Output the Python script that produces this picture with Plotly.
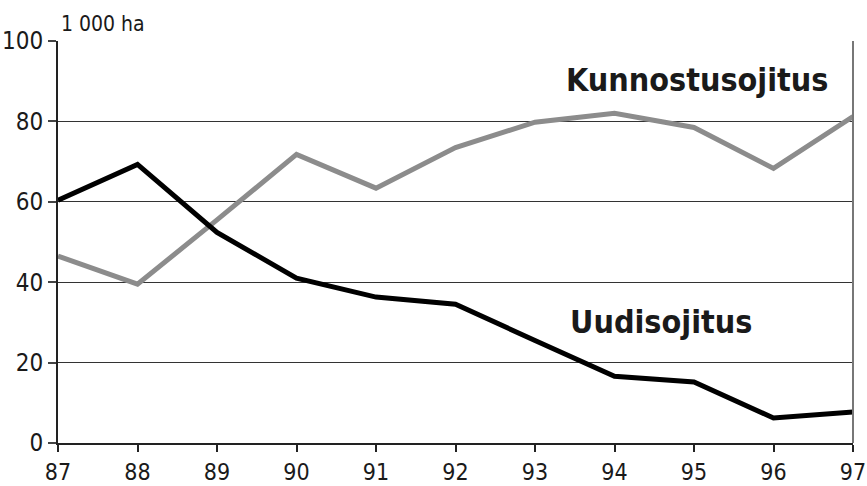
import plotly.graph_objects as go

years = [87, 88, 89, 90, 91, 92, 93, 94, 95, 96, 97]
uudisojitus = [60.4, 69.3, 52.4, 41.0, 36.3, 34.5, 25.5, 16.6, 15.2, 6.2, 7.7]
kunnostusojitus = [46.5, 39.5, 55.5, 71.8, 63.4, 73.5, 79.8, 82.0, 78.5, 68.3, 81.2]
y_ticks = [0, 20, 40, 60, 80, 100]

FONT = "DejaVu Sans Condensed, Liberation Sans Narrow, Arial Narrow, sans-serif"

fig = go.Figure()
fig.add_trace(go.Scatter(x=years, y=kunnostusojitus, mode="lines",
                         line=dict(color="#8c8c8c", width=5), showlegend=False,
                         cliponaxis=False))
fig.add_trace(go.Scatter(x=years, y=uudisojitus, mode="lines",
                         line=dict(color="#000000", width=5), showlegend=False,
                         cliponaxis=False))

fig.add_annotation(x=95.04, y=90.3, text="<b>Kunnostusojitus</b>", showarrow=False,
                   font=dict(family=FONT, size=32, color="#1a1a1a"))
fig.add_annotation(x=94.58, y=30.1, text="<b>Uudisojitus</b>", showarrow=False,
                   font=dict(family=FONT, size=32, color="#1a1a1a"))
fig.add_annotation(x=0, y=1, xref="paper", yref="paper", xanchor="left", yanchor="bottom",
                   xshift=1, yshift=3, text="1 000 ha", showarrow=False,
                   font=dict(family=FONT, size=21, color="#1a1a1a"))

fig.update_xaxes(range=[87, 97], tickvals=years, ticktext=[str(y) for y in years],
                 ticks="outside", ticklen=7, tickwidth=2, tickcolor="#222",
                 showgrid=False, zeroline=False, showline=True, linecolor="#222", linewidth=2,
                 automargin=False,
                 tickfont=dict(family=FONT, size=23, color="#1a1a1a"))
fig.update_yaxes(range=[0, 100], tickvals=y_ticks,
                 ticks="outside", ticklen=8, tickwidth=2, tickcolor="#444",
                 showgrid=True, gridcolor="#333", gridwidth=1, zeroline=False,
                 showline=True, linecolor="#222", linewidth=2, automargin=False,
                 tickfont=dict(family=FONT, size=24, color="#1a1a1a"))

fig.add_shape(type="line", xref="paper", yref="paper", x0=1, x1=1, y0=0, y1=1,
              line=dict(color="#777", width=2))

fig.update_layout(width=867, height=486, plot_bgcolor="white", paper_bgcolor="white",
                  margin=dict(l=58, r=14, t=41, b=43, autoexpand=False))

fig.write_html("out.html", config={"displayModeBar": False},
               post_script="document.body.style.margin='0';")
